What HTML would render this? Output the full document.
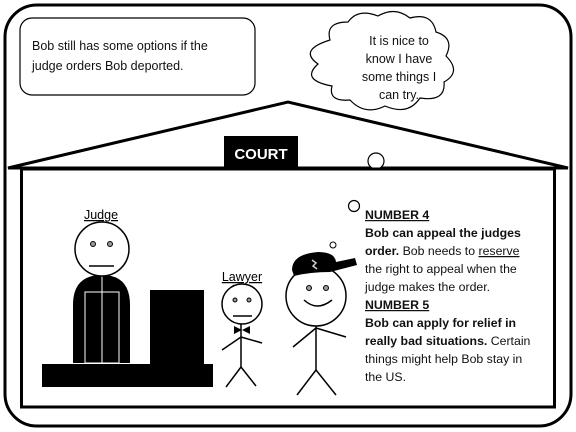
<!DOCTYPE html>
<html><head><style>
html,body{margin:0;padding:0;background:#fff;}
svg{display:block;}
text{font-family:"Liberation Sans",sans-serif;}
</style></head><body>
<svg width="576" height="432" viewBox="0 0 576 432" xmlns="http://www.w3.org/2000/svg">
<rect x="0" y="0" width="576" height="432" fill="#fff"/>
<rect x="5" y="5" width="566" height="421" rx="32" fill="none" stroke="#000" stroke-width="3"/>
<!-- caption box -->
<rect x="20" y="18" width="235" height="77" rx="12" fill="#fff" stroke="#000" stroke-width="1.2"/>
<text x="32" y="50" font-size="12.5" fill="#111">Bob still has some options if the</text>
<text x="32" y="70" font-size="12.5" fill="#111">judge orders Bob deported.</text>
<!-- roof -->
<polygon points="8,168 288,102 568,168" fill="#fff" stroke="#000" stroke-width="3" stroke-linejoin="miter"/>
<!-- cloud -->
<path d="M330 40 Q325 22 348 22 Q358 8 378 16 Q395 6 410 18 Q432 12 436 32 Q455 38 446 56 Q462 72 444 82 Q446 102 420 98 Q408 116 385 106 Q365 116 350 100 Q328 102 332 86 Q300 80 318 64 Q298 50 330 40 Z" fill="#fff" stroke="#000" stroke-width="1.2"/>
<g font-size="12.5" fill="#111" text-anchor="middle">
<text x="399" y="45">It is nice to</text>
<text x="399" y="63">know I have</text>
<text x="399" y="81">some things I</text>
<text x="399" y="99">can try.</text>
</g>
<rect x="224" y="136" width="74" height="31" fill="#000"/>
<text x="261" y="159" font-size="15" font-weight="bold" fill="#fff" text-anchor="middle">COURT</text>
<circle cx="376" cy="161" r="8" fill="#fff" stroke="#000" stroke-width="1.2"/>
<!-- house -->
<rect x="21.5" y="169" width="533" height="238" fill="#fff" stroke="#000" stroke-width="3"/>
<!-- platform and box -->
<rect x="42" y="364" width="171" height="23" fill="#000"/>
<rect x="150" y="290" width="54" height="74" fill="#000"/>
<!-- judge -->
<path d="M73 363 L73 305 Q73 275 102 275 Q130 275 130 305 L130 363 Z" fill="#000"/>
<g stroke="#fff" stroke-width="1" fill="none">
<line x1="102" y1="275" x2="102" y2="363"/>
<rect x="85" y="292" width="34" height="71"/>
</g>
<circle cx="102" cy="249" r="27" fill="#fff" stroke="#000" stroke-width="1.5"/>
<circle cx="93" cy="244" r="2.5" fill="#999" stroke="#000"/>
<circle cx="110" cy="244" r="2.5" fill="#999" stroke="#000"/>
<line x1="89" y1="266" x2="114" y2="266" stroke="#000" stroke-width="1.5"/>
<text x="101" y="219" font-size="12.5" text-anchor="middle" text-decoration="underline">Judge</text>
<!-- lawyer -->
<text x="242" y="281" font-size="12.5" text-anchor="middle" text-decoration="underline">Lawyer</text>
<circle cx="242" cy="304" r="20" fill="#fff" stroke="#000" stroke-width="1.5"/>
<circle cx="235" cy="300" r="2" fill="#999" stroke="#000"/>
<circle cx="249" cy="300" r="2" fill="#999" stroke="#000"/>
<line x1="233" y1="316" x2="252" y2="316" stroke="#000" stroke-width="1.5"/>
<polygon points="234,326 242,330 234,334" fill="#000"/>
<polygon points="250,326 242,330 250,334" fill="#000"/>
<g stroke="#000" stroke-width="1.5" fill="none">
<line x1="241" y1="324" x2="241" y2="367"/>
<line x1="241" y1="337" x2="222" y2="350"/>
<line x1="241" y1="337" x2="262" y2="343"/>
<line x1="241" y1="367" x2="226" y2="387"/>
<line x1="241" y1="367" x2="256" y2="386"/>
</g>
<!-- bob -->
<circle cx="316" cy="296" r="30" fill="#fff" stroke="#000" stroke-width="1.5"/>
<path d="M292 270 Q292 254 318 252 Q335 252 336 262 L355 258 L357 265 L330 272 Q310 272 294 276 Z" fill="#000"/>
<path d="M312 260 l4 3 -3 3 4 3" stroke="#ccc" stroke-width="1.5" fill="none"/>
<circle cx="309" cy="288" r="2.5" fill="#999" stroke="#000"/>
<circle cx="326" cy="288" r="2.5" fill="#999" stroke="#000"/>
<path d="M304 300 Q317 312 332 300" stroke="#000" stroke-width="1.5" fill="none"/>
<circle cx="333" cy="245" r="3" fill="#fff" stroke="#000"/>
<circle cx="354" cy="206" r="5.5" fill="#fff" stroke="#000" stroke-width="1.2"/>
<g stroke="#000" stroke-width="1.5" fill="none">
<line x1="316" y1="326" x2="316" y2="370"/>
<line x1="316" y1="328" x2="293" y2="347"/>
<line x1="316" y1="328" x2="346" y2="337"/>
<line x1="316" y1="370" x2="297" y2="395"/>
<line x1="316" y1="370" x2="336" y2="395"/>
</g>
<!-- right text -->
<g font-size="12.3" fill="#111">
<text x="365" y="219" font-weight="bold" text-decoration="underline">NUMBER 4</text>
<text x="365" y="237" font-weight="bold">Bob can appeal the judges</text>
<text x="365" y="255"><tspan font-weight="bold">order.</tspan> Bob needs to <tspan text-decoration="underline">reserve</tspan></text>
<text x="365" y="273">the right to appeal when the</text>
<text x="365" y="291">judge makes the order.</text>
<text x="365" y="309" font-weight="bold" text-decoration="underline">NUMBER 5</text>
<text x="365" y="327" font-weight="bold">Bob can apply for relief in</text>
<text x="365" y="345"><tspan font-weight="bold">really bad situations.</tspan> Certain</text>
<text x="365" y="363">things might help Bob stay in</text>
<text x="365" y="381">the US.</text>
</g>
</svg>
</body></html>
